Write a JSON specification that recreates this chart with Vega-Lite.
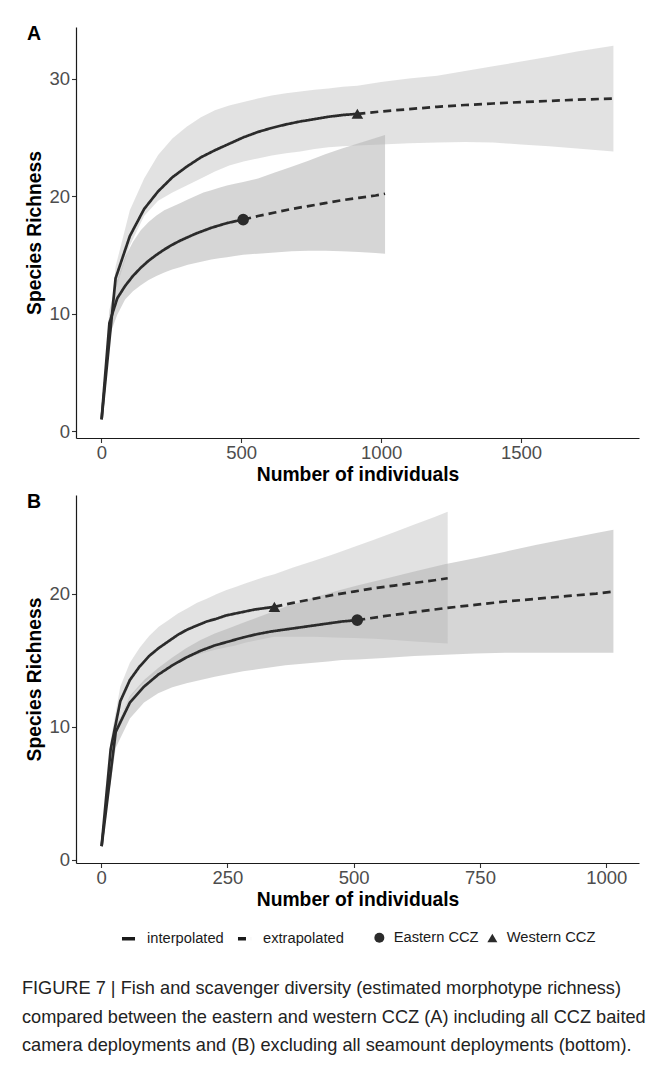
{
  "$schema": "https://vega.github.io/schema/vega-lite/v6.json",
  "padding": {"left": 21, "top": 23, "right": 0, "bottom": 0},
  "background": "white",
  "datasets": {
    "curves": [
      {"p":"A","site":"Western CCZ","method":"interpolated","m":1,"qD":1,"lo":1,"hi":1},
      {"p":"A","site":"Western CCZ","method":"interpolated","m":51,"qD":13.0,"lo":12.0,"hi":14.0},
      {"p":"A","site":"Western CCZ","method":"interpolated","m":102,"qD":16.6,"lo":15.8,"hi":18.8},
      {"p":"A","site":"Western CCZ","method":"interpolated","m":153,"qD":18.9,"lo":18.3,"hi":21.5},
      {"p":"A","site":"Western CCZ","method":"interpolated","m":203,"qD":20.4,"lo":19.6,"hi":23.5},
      {"p":"A","site":"Western CCZ","method":"interpolated","m":254,"qD":21.6,"lo":20.3,"hi":24.9},
      {"p":"A","site":"Western CCZ","method":"interpolated","m":305,"qD":22.5,"lo":20.9,"hi":25.9},
      {"p":"A","site":"Western CCZ","method":"interpolated","m":356,"qD":23.3,"lo":21.5,"hi":26.7},
      {"p":"A","site":"Western CCZ","method":"interpolated","m":406,"qD":23.9,"lo":22.1,"hi":27.3},
      {"p":"A","site":"Western CCZ","method":"interpolated","m":457,"qD":24.45,"lo":22.6,"hi":27.7},
      {"p":"A","site":"Western CCZ","method":"interpolated","m":508,"qD":25.0,"lo":22.95,"hi":28.0},
      {"p":"A","site":"Western CCZ","method":"interpolated","m":559,"qD":25.45,"lo":23.2,"hi":28.3},
      {"p":"A","site":"Western CCZ","method":"interpolated","m":609,"qD":25.8,"lo":23.45,"hi":28.55},
      {"p":"A","site":"Western CCZ","method":"interpolated","m":660,"qD":26.1,"lo":23.65,"hi":28.75},
      {"p":"A","site":"Western CCZ","method":"interpolated","m":711,"qD":26.35,"lo":23.8,"hi":28.9},
      {"p":"A","site":"Western CCZ","method":"interpolated","m":762,"qD":26.55,"lo":24.0,"hi":29.05},
      {"p":"A","site":"Western CCZ","method":"interpolated","m":812,"qD":26.75,"lo":24.15,"hi":29.15},
      {"p":"A","site":"Western CCZ","method":"interpolated","m":863,"qD":26.9,"lo":24.25,"hi":29.3},
      {"p":"A","site":"Western CCZ","method":"interpolated","m":915,"qD":27.0,"lo":24.3,"hi":29.4},
      {"p":"A","site":"Western CCZ","method":"extrapolated","m":915,"qD":27.0,"lo":24.3,"hi":29.4},
      {"p":"A","site":"Western CCZ","method":"extrapolated","m":1000,"qD":27.2,"lo":24.4,"hi":29.7},
      {"p":"A","site":"Western CCZ","method":"extrapolated","m":1100,"qD":27.4,"lo":24.5,"hi":30.0},
      {"p":"A","site":"Western CCZ","method":"extrapolated","m":1200,"qD":27.6,"lo":24.55,"hi":30.25},
      {"p":"A","site":"Western CCZ","method":"extrapolated","m":1300,"qD":27.75,"lo":24.6,"hi":30.65},
      {"p":"A","site":"Western CCZ","method":"extrapolated","m":1400,"qD":27.88,"lo":24.55,"hi":31.05},
      {"p":"A","site":"Western CCZ","method":"extrapolated","m":1500,"qD":28.0,"lo":24.4,"hi":31.45},
      {"p":"A","site":"Western CCZ","method":"extrapolated","m":1600,"qD":28.1,"lo":24.25,"hi":31.85},
      {"p":"A","site":"Western CCZ","method":"extrapolated","m":1700,"qD":28.2,"lo":24.05,"hi":32.3},
      {"p":"A","site":"Western CCZ","method":"extrapolated","m":1830,"qD":28.3,"lo":23.8,"hi":32.8},

      {"p":"A","site":"Eastern CCZ","method":"interpolated","m":1,"qD":1,"lo":1,"hi":1},
      {"p":"A","site":"Eastern CCZ","method":"interpolated","m":29,"qD":9.2,"lo":8.1,"hi":10.3},
      {"p":"A","site":"Eastern CCZ","method":"interpolated","m":57,"qD":11.3,"lo":9.9,"hi":12.9},
      {"p":"A","site":"Eastern CCZ","method":"interpolated","m":85,"qD":12.35,"lo":11.2,"hi":14.8},
      {"p":"A","site":"Eastern CCZ","method":"interpolated","m":113,"qD":13.2,"lo":11.9,"hi":16.1},
      {"p":"A","site":"Eastern CCZ","method":"interpolated","m":141,"qD":13.9,"lo":12.4,"hi":17.1},
      {"p":"A","site":"Eastern CCZ","method":"interpolated","m":169,"qD":14.5,"lo":12.85,"hi":17.8},
      {"p":"A","site":"Eastern CCZ","method":"interpolated","m":197,"qD":15.0,"lo":13.2,"hi":18.35},
      {"p":"A","site":"Eastern CCZ","method":"interpolated","m":225,"qD":15.45,"lo":13.5,"hi":18.8},
      {"p":"A","site":"Eastern CCZ","method":"interpolated","m":253,"qD":15.85,"lo":13.75,"hi":19.1},
      {"p":"A","site":"Eastern CCZ","method":"interpolated","m":281,"qD":16.2,"lo":13.95,"hi":19.4},
      {"p":"A","site":"Eastern CCZ","method":"interpolated","m":309,"qD":16.5,"lo":14.15,"hi":19.7},
      {"p":"A","site":"Eastern CCZ","method":"interpolated","m":337,"qD":16.8,"lo":14.3,"hi":20.0},
      {"p":"A","site":"Eastern CCZ","method":"interpolated","m":365,"qD":17.05,"lo":14.45,"hi":20.3},
      {"p":"A","site":"Eastern CCZ","method":"interpolated","m":393,"qD":17.3,"lo":14.6,"hi":20.5},
      {"p":"A","site":"Eastern CCZ","method":"interpolated","m":421,"qD":17.5,"lo":14.7,"hi":20.7},
      {"p":"A","site":"Eastern CCZ","method":"interpolated","m":449,"qD":17.7,"lo":14.8,"hi":20.9},
      {"p":"A","site":"Eastern CCZ","method":"interpolated","m":477,"qD":17.85,"lo":14.9,"hi":21.05},
      {"p":"A","site":"Eastern CCZ","method":"interpolated","m":507,"qD":18.0,"lo":15.0,"hi":21.2},
      {"p":"A","site":"Eastern CCZ","method":"extrapolated","m":507,"qD":18.0,"lo":15.0,"hi":21.2},
      {"p":"A","site":"Eastern CCZ","method":"extrapolated","m":560,"qD":18.3,"lo":15.1,"hi":21.5},
      {"p":"A","site":"Eastern CCZ","method":"extrapolated","m":620,"qD":18.6,"lo":15.2,"hi":22.0},
      {"p":"A","site":"Eastern CCZ","method":"extrapolated","m":680,"qD":18.9,"lo":15.3,"hi":22.5},
      {"p":"A","site":"Eastern CCZ","method":"extrapolated","m":740,"qD":19.15,"lo":15.35,"hi":23.0},
      {"p":"A","site":"Eastern CCZ","method":"extrapolated","m":800,"qD":19.4,"lo":15.35,"hi":23.55},
      {"p":"A","site":"Eastern CCZ","method":"extrapolated","m":860,"qD":19.65,"lo":15.3,"hi":24.05},
      {"p":"A","site":"Eastern CCZ","method":"extrapolated","m":920,"qD":19.85,"lo":15.25,"hi":24.5},
      {"p":"A","site":"Eastern CCZ","method":"extrapolated","m":980,"qD":20.05,"lo":15.15,"hi":24.95},
      {"p":"A","site":"Eastern CCZ","method":"extrapolated","m":1014,"qD":20.2,"lo":15.1,"hi":25.2},

      {"p":"B","site":"Western CCZ","method":"interpolated","m":1,"qD":1,"lo":1,"hi":1},
      {"p":"B","site":"Western CCZ","method":"interpolated","m":19,"qD":8.3,"lo":7.6,"hi":9.0},
      {"p":"B","site":"Western CCZ","method":"interpolated","m":38,"qD":11.9,"lo":10.8,"hi":13.0},
      {"p":"B","site":"Western CCZ","method":"interpolated","m":57,"qD":13.5,"lo":12.2,"hi":14.8},
      {"p":"B","site":"Western CCZ","method":"interpolated","m":76,"qD":14.5,"lo":13.0,"hi":15.9},
      {"p":"B","site":"Western CCZ","method":"interpolated","m":95,"qD":15.3,"lo":13.6,"hi":16.8},
      {"p":"B","site":"Western CCZ","method":"interpolated","m":114,"qD":15.9,"lo":14.1,"hi":17.5},
      {"p":"B","site":"Western CCZ","method":"interpolated","m":133,"qD":16.4,"lo":14.5,"hi":18.0},
      {"p":"B","site":"Western CCZ","method":"interpolated","m":152,"qD":16.9,"lo":14.85,"hi":18.5},
      {"p":"B","site":"Western CCZ","method":"interpolated","m":171,"qD":17.3,"lo":15.15,"hi":18.9},
      {"p":"B","site":"Western CCZ","method":"interpolated","m":190,"qD":17.6,"lo":15.4,"hi":19.3},
      {"p":"B","site":"Western CCZ","method":"interpolated","m":209,"qD":17.9,"lo":15.6,"hi":19.6},
      {"p":"B","site":"Western CCZ","method":"interpolated","m":228,"qD":18.1,"lo":15.8,"hi":19.95},
      {"p":"B","site":"Western CCZ","method":"interpolated","m":247,"qD":18.35,"lo":15.95,"hi":20.25},
      {"p":"B","site":"Western CCZ","method":"interpolated","m":266,"qD":18.5,"lo":16.1,"hi":20.5},
      {"p":"B","site":"Western CCZ","method":"interpolated","m":285,"qD":18.65,"lo":16.3,"hi":20.75},
      {"p":"B","site":"Western CCZ","method":"interpolated","m":304,"qD":18.8,"lo":16.45,"hi":21.0},
      {"p":"B","site":"Western CCZ","method":"interpolated","m":323,"qD":18.9,"lo":16.6,"hi":21.25},
      {"p":"B","site":"Western CCZ","method":"interpolated","m":343,"qD":19.0,"lo":16.75,"hi":21.45},
      {"p":"B","site":"Western CCZ","method":"extrapolated","m":343,"qD":19.0,"lo":16.75,"hi":21.45},
      {"p":"B","site":"Western CCZ","method":"extrapolated","m":380,"qD":19.3,"lo":16.75,"hi":21.95},
      {"p":"B","site":"Western CCZ","method":"extrapolated","m":420,"qD":19.6,"lo":16.75,"hi":22.45},
      {"p":"B","site":"Western CCZ","method":"extrapolated","m":460,"qD":19.9,"lo":16.7,"hi":22.95},
      {"p":"B","site":"Western CCZ","method":"extrapolated","m":500,"qD":20.15,"lo":16.65,"hi":23.5},
      {"p":"B","site":"Western CCZ","method":"extrapolated","m":540,"qD":20.4,"lo":16.6,"hi":24.05},
      {"p":"B","site":"Western CCZ","method":"extrapolated","m":580,"qD":20.6,"lo":16.5,"hi":24.6},
      {"p":"B","site":"Western CCZ","method":"extrapolated","m":620,"qD":20.8,"lo":16.4,"hi":25.2},
      {"p":"B","site":"Western CCZ","method":"extrapolated","m":660,"qD":21.0,"lo":16.3,"hi":25.75},
      {"p":"B","site":"Western CCZ","method":"extrapolated","m":686,"qD":21.15,"lo":16.25,"hi":26.15},

      {"p":"B","site":"Eastern CCZ","method":"interpolated","m":1,"qD":1,"lo":1,"hi":1},
      {"p":"B","site":"Eastern CCZ","method":"interpolated","m":29,"qD":9.6,"lo":8.4,"hi":10.0},
      {"p":"B","site":"Eastern CCZ","method":"interpolated","m":57,"qD":11.8,"lo":10.6,"hi":12.3},
      {"p":"B","site":"Eastern CCZ","method":"interpolated","m":85,"qD":13.0,"lo":11.8,"hi":13.5},
      {"p":"B","site":"Eastern CCZ","method":"interpolated","m":113,"qD":13.9,"lo":12.5,"hi":14.4},
      {"p":"B","site":"Eastern CCZ","method":"interpolated","m":141,"qD":14.6,"lo":12.95,"hi":15.2},
      {"p":"B","site":"Eastern CCZ","method":"interpolated","m":169,"qD":15.2,"lo":13.25,"hi":15.9},
      {"p":"B","site":"Eastern CCZ","method":"interpolated","m":197,"qD":15.7,"lo":13.5,"hi":16.5},
      {"p":"B","site":"Eastern CCZ","method":"interpolated","m":225,"qD":16.1,"lo":13.75,"hi":17.0},
      {"p":"B","site":"Eastern CCZ","method":"interpolated","m":253,"qD":16.4,"lo":13.95,"hi":17.4},
      {"p":"B","site":"Eastern CCZ","method":"interpolated","m":281,"qD":16.7,"lo":14.15,"hi":17.8},
      {"p":"B","site":"Eastern CCZ","method":"interpolated","m":309,"qD":16.95,"lo":14.3,"hi":18.2},
      {"p":"B","site":"Eastern CCZ","method":"interpolated","m":337,"qD":17.15,"lo":14.45,"hi":18.6},
      {"p":"B","site":"Eastern CCZ","method":"interpolated","m":365,"qD":17.3,"lo":14.6,"hi":19.0},
      {"p":"B","site":"Eastern CCZ","method":"interpolated","m":393,"qD":17.45,"lo":14.7,"hi":19.35},
      {"p":"B","site":"Eastern CCZ","method":"interpolated","m":421,"qD":17.6,"lo":14.8,"hi":19.7},
      {"p":"B","site":"Eastern CCZ","method":"interpolated","m":449,"qD":17.75,"lo":14.9,"hi":20.0},
      {"p":"B","site":"Eastern CCZ","method":"interpolated","m":477,"qD":17.9,"lo":15.0,"hi":20.3},
      {"p":"B","site":"Eastern CCZ","method":"interpolated","m":507,"qD":18.0,"lo":15.05,"hi":20.6},
      {"p":"B","site":"Eastern CCZ","method":"extrapolated","m":507,"qD":18.0,"lo":15.05,"hi":20.6},
      {"p":"B","site":"Eastern CCZ","method":"extrapolated","m":560,"qD":18.3,"lo":15.15,"hi":21.1},
      {"p":"B","site":"Eastern CCZ","method":"extrapolated","m":620,"qD":18.6,"lo":15.3,"hi":21.65},
      {"p":"B","site":"Eastern CCZ","method":"extrapolated","m":680,"qD":18.9,"lo":15.4,"hi":22.2},
      {"p":"B","site":"Eastern CCZ","method":"extrapolated","m":740,"qD":19.15,"lo":15.5,"hi":22.65},
      {"p":"B","site":"Eastern CCZ","method":"extrapolated","m":800,"qD":19.4,"lo":15.55,"hi":23.15},
      {"p":"B","site":"Eastern CCZ","method":"extrapolated","m":860,"qD":19.6,"lo":15.55,"hi":23.65},
      {"p":"B","site":"Eastern CCZ","method":"extrapolated","m":920,"qD":19.8,"lo":15.55,"hi":24.1},
      {"p":"B","site":"Eastern CCZ","method":"extrapolated","m":980,"qD":20.0,"lo":15.55,"hi":24.55},
      {"p":"B","site":"Eastern CCZ","method":"extrapolated","m":1014,"qD":20.15,"lo":15.55,"hi":24.8}
    ],
    "observed": [
      {"p":"A","site":"Eastern CCZ","m":507,"qD":18.0},
      {"p":"A","site":"Western CCZ","m":915,"qD":27.0},
      {"p":"B","site":"Eastern CCZ","m":507,"qD":18.0},
      {"p":"B","site":"Western CCZ","m":343,"qD":19.0}
    ]
  },
  "resolve": {
    "scale": {"color": "independent", "strokeDash": "independent", "shape": "independent"},
    "legend": {"color": "independent", "strokeDash": "independent", "shape": "independent"}
  },
  "vconcat": [
    {
      "title": {"text": "A", "orient": "top", "anchor": "start", "frame": "bounds", "offset": 0, "dy": 17, "dx": 1, "fontSize": 19.5, "fontWeight": "bold", "color": "#000"},
      "width": 563,
      "height": 411,
      "layer": [
        {
          "data": {"name": "curves"},
          "transform": [{"filter": "datum.p === 'A'"}],
          "mark": {"type": "area", "opacity": 0.52},
          "encoding": {
            "x": {"field": "m", "type": "quantitative", "scale": {"domain": [-90.45, 1921.45], "nice": false, "zero": false}, "axis": {"values": [0, 500, 1000, 1500], "format": "d", "title": "Number of individuals"}},
            "y": {"field": "lo", "type": "quantitative", "scale": {"domain": [-0.59, 34.39], "nice": false, "zero": false}, "axis": {"values": [0, 10, 20, 30], "title": "Species Richness"}},
            "y2": {"field": "hi"},
            "color": {"field": "site", "type": "nominal", "scale": {"domain": ["Western CCZ", "Eastern CCZ"], "range": ["#c7c7c7", "#b0b0b0"]}, "legend": null}
          }
        },
        {
          "data": {"name": "curves"},
          "transform": [{"filter": "datum.p === 'A'"}],
          "mark": {"type": "line", "color": "#2b2b2b", "strokeWidth": 2.7},
          "encoding": {
            "x": {"field": "m", "type": "quantitative"},
            "y": {"field": "qD", "type": "quantitative"},
            "detail": {"field": "site"},
            "strokeDash": {"field": "method", "type": "nominal", "scale": {"domain": ["interpolated", "extrapolated"], "range": [[1, 0], [8, 5]]}, "legend": null}
          }
        },
        {
          "data": {"name": "observed"},
          "transform": [{"filter": "datum.p === 'A'"}],
          "mark": {"type": "point", "filled": true, "color": "#2b2b2b", "opacity": 1, "size": 135},
          "encoding": {
            "x": {"field": "m", "type": "quantitative"},
            "y": {"field": "qD", "type": "quantitative"},
            "shape": {"field": "site", "type": "nominal", "scale": {"domain": ["Eastern CCZ", "Western CCZ"], "range": ["circle", "triangle-up"]}, "legend": null}
          }
        }
      ]
    },
    {
      "title": {"text": "B", "orient": "top", "anchor": "start", "frame": "bounds", "offset": 0, "dy": 17, "dx": 1, "fontSize": 19.5, "fontWeight": "bold", "color": "#000"},
      "width": 563,
      "height": 368,
      "layer": [
        {
          "data": {"name": "curves"},
          "transform": [{"filter": "datum.p === 'B'"}],
          "mark": {"type": "area", "opacity": 0.52},
          "encoding": {
            "x": {"field": "m", "type": "quantitative", "scale": {"domain": [-49.65, 1064.65], "nice": false, "zero": false}, "axis": {"values": [0, 250, 500, 750, 1000], "format": "d", "title": "Number of individuals"}},
            "y": {"field": "lo", "type": "quantitative", "scale": {"domain": [-0.26, 27.41], "nice": false, "zero": false}, "axis": {"values": [0, 10, 20], "title": "Species Richness"}},
            "y2": {"field": "hi"},
            "color": {"field": "site", "type": "nominal", "scale": {"domain": ["Western CCZ", "Eastern CCZ"], "range": ["#c7c7c7", "#b0b0b0"]}, "legend": null}
          }
        },
        {
          "data": {"name": "curves"},
          "transform": [{"filter": "datum.p === 'B'"}],
          "mark": {"type": "line", "color": "#2b2b2b", "strokeWidth": 2.7},
          "encoding": {
            "x": {"field": "m", "type": "quantitative"},
            "y": {"field": "qD", "type": "quantitative"},
            "detail": {"field": "site"},
            "strokeDash": {"field": "method", "type": "nominal", "scale": {"domain": ["interpolated", "extrapolated"], "range": [[1, 0], [8, 5]]}, "legend": {"title": null, "orient": "bottom", "direction": "horizontal", "symbolType": "stroke", "symbolStrokeColor": "#1a1a1a", "symbolStrokeWidth": 3.5, "symbolSize": 170, "padding": 10, "labelOffset": 10, "columnPadding": 6}}
          }
        },
        {
          "data": {"name": "observed"},
          "transform": [{"filter": "datum.p === 'B'"}],
          "mark": {"type": "point", "filled": true, "color": "#2b2b2b", "opacity": 1, "size": 135},
          "encoding": {
            "x": {"field": "m", "type": "quantitative"},
            "y": {"field": "qD", "type": "quantitative"},
            "shape": {"field": "site", "type": "nominal", "scale": {"domain": ["Eastern CCZ", "Western CCZ"], "range": ["circle", "triangle-up"]}, "legend": {"title": null, "orient": "bottom", "direction": "horizontal", "symbolFillColor": "#2b2b2b", "symbolStrokeColor": "#555555", "symbolSize": 100, "symbolOpacity": 1, "padding": 10, "labelOffset": 7, "columnPadding": 5}}
          }
        }
      ]
    }
  ],
  "spacing": 6,
  "title": {
    "text": [
      "FIGURE 7 | Fish and scavenger diversity (estimated morphotype richness)",
      "compared between the eastern and western CCZ (A) including all CCZ baited",
      "camera deployments and (B) excluding all seamount deployments (bottom)."
    ],
    "orient": "bottom",
    "anchor": "start",
    "frame": "bounds",
    "fontSize": 18.2,
    "fontWeight": "normal",
    "lineHeight": 28.5,
    "color": "#222222",
    "offset": 24,
    "dx": -4
  },
  "config": {
    "font": "Liberation Sans",
    "view": {"stroke": null},
    "axis": {
      "grid": false,
      "domainColor": "#1a1a1a",
      "domainWidth": 1.2,
      "tickColor": "#333333",
      "tickSize": 4.5,
      "tickWidth": 1.1,
      "labelColor": "#4d4d4d",
      "labelFontSize": 18.5,
      "labelPadding": 2,
      "titleFontSize": 19.3,
      "titleFontWeight": "bold",
      "titleColor": "#000000"
    },
    "axisX": {"titlePadding": 3, "labelPadding": 1},
    "axisY": {"titlePadding": 4},
    "legend": {
      "labelFontSize": 14.7,
      "labelColor": "#1a1a1a",
      "offset": 10,
      "layout": {"bottom": {"anchor": "middle"}}
    }
  }
}
